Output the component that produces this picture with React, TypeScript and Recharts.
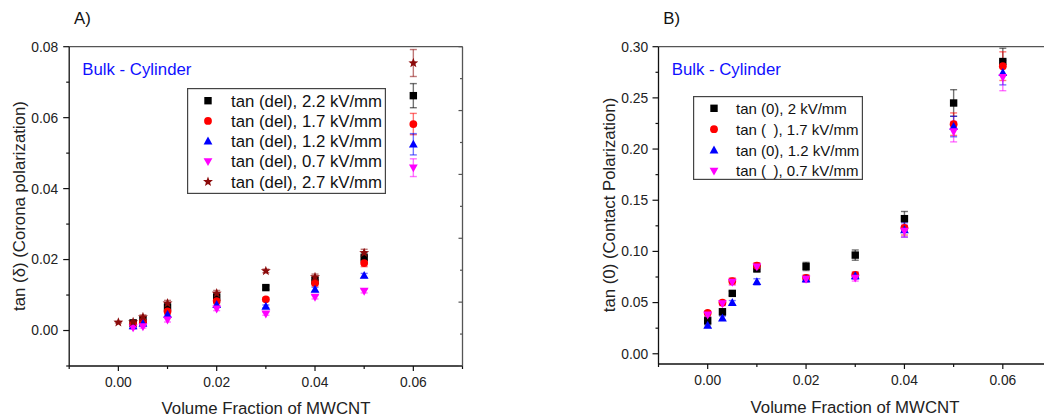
import React from 'react';
import { ScatterChart, Scatter, XAxis, YAxis, ErrorBar, Legend } from 'recharts';

const FONT = '"Liberation Sans", Arial, Helvetica, sans-serif';

// ---------- shared ----------
const X_VALUES = [0, 0.003, 0.005, 0.01, 0.02, 0.03, 0.04, 0.05, 0.06];
const X_TICKS = [-0.01, 0, 0.01, 0.02, 0.03, 0.04, 0.05, 0.06, 0.07];
const X_LABELED = [0, 0.02, 0.04, 0.06];
const FRAME_TICKS = [0, 1, 2, 3, 4, 5, 6, 7, 8, 9, 10];

// ---------- panel A ----------
const A_NAMES = [
  'tan (del), 2.2 kV/mm',
  'tan (del), 1.7 kV/mm',
  'tan (del), 1.2 kV/mm',
  'tan (del), 0.7 kV/mm',
  'tan (del), 2.7 kV/mm',
];
const A_22 = [null, 0.0021, 0.003, 0.0066, 0.0094, 0.0121, 0.0141, 0.0205, 0.0662];
const A_17 = [null, 0.0018, 0.0025, 0.0054, 0.0083, 0.0088, 0.0134, 0.019, 0.0582];
const A_12 = [null, 0.0013, 0.002, 0.0045, 0.0073, 0.0068, 0.0116, 0.0155, 0.0525];
const A_07 = [null, 0.0008, 0.0011, 0.003, 0.0061, 0.0047, 0.0094, 0.0111, 0.0459];
const A_27 = [0.0023, 0.0024, 0.0038, 0.0077, 0.0105, 0.0168, 0.0151, 0.0219, 0.0754];
const A_22_ERR = [null, 0.0008, 0.0008, 0.001, 0.001, 0.0005, 0.001, 0.0012, 0.0034];
const A_17_ERR = [null, 0.0005, 0.0005, 0.0008, 0.0008, 0.0005, 0.0008, 0.001, 0.003];
const A_12_ERR = [null, 0.0004, 0.0004, 0.0006, 0.0006, 0.0004, 0.0006, 0.0006, 0.003];
const A_07_ERR = [null, 0.0004, 0.0004, 0.0006, 0.0005, 0.0004, 0.0005, 0.0005, 0.0025];
const A_27_ERR = [0.0002, 0.0006, 0.0006, 0.0008, 0.0008, 0.0005, 0.0008, 0.001, 0.0038];
const A_Y_TICKS = [-0.01, 0, 0.01, 0.02, 0.03, 0.04, 0.05, 0.06, 0.07, 0.08];
const A_Y_LABELED = [0, 0.02, 0.04, 0.06, 0.08];

// ---------- panel B ----------
const B_NAMES = [
  'tan (0), 2 kV/mm',
  'tan (\u2002), 1.7 kV/mm',
  'tan (0), 1.2 kV/mm',
  'tan (\u2002), 0.7 kV/mm',
];
const B_20 = [0.0322, 0.041, 0.059, 0.083, 0.0853, 0.0964, 0.132, 0.245, 0.2855];
const B_17 = [0.04, 0.05, 0.071, 0.086, 0.074, 0.077, 0.123, 0.2243, 0.281];
const B_12 = [0.0277, 0.0348, 0.05, 0.0703, 0.073, 0.076, 0.121, 0.222, 0.2747];
const B_07 = [0.038, 0.049, 0.07, 0.085, 0.073, 0.074, 0.12, 0.217, 0.27];
const B_20_ERR = [0.004, 0.003, 0.002, 0.003, 0.004, 0.005, 0.007, 0.013, 0.013];
const B_17_ERR = [0.002, 0.002, 0.003, 0.003, 0.003, 0.003, 0.007, 0.011, 0.014];
const B_12_ERR = [0.002, 0.002, 0.002, 0.003, 0.003, 0.003, 0.007, 0.01, 0.012];
const B_07_ERR = [0.002, 0.002, 0.003, 0.003, 0.003, 0.003, 0.006, 0.01, 0.013];
const B_Y_TICKS = [0, 0.025, 0.05, 0.075, 0.1, 0.125, 0.15, 0.175, 0.2, 0.225, 0.25, 0.275, 0.3];
const B_Y_LABELED = [0, 0.05, 0.1, 0.15, 0.2, 0.25, 0.3];

type Kind = 'square' | 'circle' | 'triangle' | 'down' | 'star';

const BLACK = '#000000';
const RED = '#ff0000';
const BLUE = '#0000ff';
const MAGENTA = '#ff00ff';
const DARKRED = '#8b0a0a';

function build(ys: (number | null)[], errs: (number | null)[]) {
  const out: { x: number; y: number; e: number }[] = [];
  X_VALUES.forEach((x, i) => {
    const y = ys[i];
    if (y !== null && y !== undefined) out.push({ x, y, e: (errs[i] as number) || 0 });
  });
  return out;
}

function starPoints(cx: number, cy: number, ro: number, ri: number) {
  const pts: string[] = [];
  for (let i = 0; i < 10; i++) {
    const r = i % 2 === 0 ? ro : ri;
    const a = -Math.PI / 2 + (i * Math.PI) / 5;
    pts.push(`${cx + r * Math.cos(a)},${cy + r * Math.sin(a)}`);
  }
  return pts.join(' ');
}

function Marker({ kind, cx, cy, color }: { kind: Kind; cx: number; cy: number; color: string }) {
  if (cx == null || cy == null || isNaN(cx) || isNaN(cy)) return <g />;
  switch (kind) {
    case 'square':
      return <rect x={cx - 3.7} y={cy - 3.7} width={7.4} height={7.4} fill={color} />;
    case 'circle':
      return <circle cx={cx} cy={cy} r={3.9} fill={color} />;
    case 'triangle':
      return <polygon points={`${cx},${cy - 4.6} ${cx - 4.4},${cy + 3.3} ${cx + 4.4},${cy + 3.3}`} fill={color} />;
    case 'down':
      return <polygon points={`${cx},${cy + 4.6} ${cx - 4.4},${cy - 3.3} ${cx + 4.4},${cy - 3.3}`} fill={color} />;
    case 'star':
      return <polygon points={starPoints(cx, cy, 5.2, 2.2)} fill={color} />;
  }
  return <g />;
}

const near = (list: number[], v: number) => list.some((t) => Math.abs(t - v) < 1e-9);

const AXIS_COLOR = '#111';
const FRAME_COLOR = '#555';
const TICK_FONT = 13.8;

function makeBottomTick() {
  return (props: any) => {
    const { x, y, payload } = props;
    const v = payload.value as number;
    const major = near(X_LABELED, v);
    return (
      <g>
        <line x1={x} x2={x} y1={y} y2={y + (major ? 5 : 3)} stroke={AXIS_COLOR} strokeWidth={1.2} />
        {major && (
          <text x={x} y={y + 21} textAnchor="middle" fontSize={TICK_FONT} fontFamily={FONT} fill="#222">
            {v.toFixed(2)}
          </text>
        )}
      </g>
    );
  };
}

function makeLeftTick(labeled: number[], gap: number) {
  return (props: any) => {
    const { x, y, payload } = props;
    const v = payload.value as number;
    const major = near(labeled, v);
    return (
      <g>
        <line x1={x} x2={x - (major ? 6 : 3)} y1={y} y2={y} stroke={AXIS_COLOR} strokeWidth={1.2} />
        {major && (
          <text x={x - gap} y={y + 4.9} textAnchor="end" fontSize={TICK_FONT} fontFamily={FONT} fill="#222">
            {v.toFixed(2)}
          </text>
        )}
      </g>
    );
  };
}

const TopTick = (props: any) => {
  const { x, y, payload } = props;
  const major = payload.value % 2 === 0;
  return <line x1={x} x2={x} y1={y} y2={y + (major ? 4 : 2.5)} stroke={FRAME_COLOR} strokeWidth={1.2} />;
};

const RightTick = (props: any) => {
  const { x, y, payload } = props;
  const major = payload.value % 2 === 0;
  return <line x1={x} x2={x - (major ? 4 : 2.5)} y1={y} y2={y} stroke={FRAME_COLOR} strokeWidth={1.2} />;
};

function makeLegend(
  names: string[],
  kinds: Kind[],
  colors: string[],
  w: number,
  h: number,
  rowTop: number,
  rowGap: number,
  textX: number,
  fontSize: number
) {
  return (props: any) => {
    const payload = (props && props.payload) || [];
    return (
      <svg width={w} height={h} style={{ display: 'block' }}>
        <rect x={0.6} y={0.6} width={w - 1.2} height={h - 1.2} fill="#fff" stroke="#444" strokeWidth={1.2} />
        {payload.map((entry: any, i: number) => {
          const idx = names.indexOf(entry.value);
          const k = idx >= 0 ? idx : i;
          const cy = rowTop + k * rowGap;
          return (
            <g key={`l-${i}`}>
              <Marker kind={kinds[k]} cx={21} cy={cy} color={colors[k]} />
              <text x={textX} y={cy + fontSize * 0.36} fontSize={fontSize} fontFamily={FONT} fill="#111">
                {entry.value}
              </text>
            </g>
          );
        })}
      </svg>
    );
  };
}

const A_SERIES = [
  { name: A_NAMES[0], ys: A_22, errs: A_22_ERR, kind: 'square' as Kind, color: BLACK },
  { name: A_NAMES[1], ys: A_17, errs: A_17_ERR, kind: 'circle' as Kind, color: RED },
  { name: A_NAMES[2], ys: A_12, errs: A_12_ERR, kind: 'triangle' as Kind, color: BLUE },
  { name: A_NAMES[3], ys: A_07, errs: A_07_ERR, kind: 'down' as Kind, color: MAGENTA },
  { name: A_NAMES[4], ys: A_27, errs: A_27_ERR, kind: 'star' as Kind, color: DARKRED },
];

const B_SERIES = [
  { name: B_NAMES[0], ys: B_20, errs: B_20_ERR, kind: 'square' as Kind, color: BLACK },
  { name: B_NAMES[1], ys: B_17, errs: B_17_ERR, kind: 'circle' as Kind, color: RED },
  { name: B_NAMES[2], ys: B_12, errs: B_12_ERR, kind: 'triangle' as Kind, color: BLUE },
  { name: B_NAMES[3], ys: B_07, errs: B_07_ERR, kind: 'down' as Kind, color: MAGENTA },
];

function Panel({
  series,
  width,
  height,
  margin,
  yDomain,
  yTicks,
  yLabeled,
  yGap,
  legend,
}: any) {
  // axes are 1px thick boxes; subtract them from the outer margins
  const m = { top: margin.top - 1, right: margin.right - 1, bottom: margin.bottom - 1, left: margin.left - 1 };
  return (
    <ScatterChart width={width} height={height} margin={m}>
      <XAxis
        type="number"
        dataKey="x"
        domain={[-0.01, 0.07]}
        ticks={X_TICKS}
        interval={0}
        allowDataOverflow
        height={1}
        tickSize={0}
        tickMargin={0}
        tickLine={false}
        axisLine={{ stroke: AXIS_COLOR, strokeWidth: 1.3 }}
        tick={makeBottomTick()}
      />
      <XAxis
        xAxisId="top"
        orientation="top"
        type="number"
        domain={[0, 10]}
        ticks={FRAME_TICKS}
        interval={0}
        allowDataOverflow
        height={1}
        tickSize={0}
        tickMargin={0}
        tickLine={false}
        axisLine={{ stroke: FRAME_COLOR, strokeWidth: 1.3 }}
        tick={TopTick}
      />
      <YAxis
        type="number"
        dataKey="y"
        domain={yDomain}
        ticks={yTicks}
        interval={0}
        allowDataOverflow
        width={1}
        tickSize={0}
        tickMargin={0}
        tickLine={false}
        axisLine={{ stroke: AXIS_COLOR, strokeWidth: 1.3 }}
        tick={makeLeftTick(yLabeled, yGap)}
      />
      <YAxis
        yAxisId="right"
        orientation="right"
        type="number"
        domain={[0, 10]}
        ticks={FRAME_TICKS}
        interval={0}
        allowDataOverflow
        width={1}
        tickSize={0}
        tickMargin={0}
        tickLine={false}
        axisLine={{ stroke: FRAME_COLOR, strokeWidth: 1.3 }}
        tick={RightTick}
      />
      {legend}
      {series.map((s: any) => (
        <Scatter
          key={s.name}
          name={s.name}
          data={build(s.ys, s.errs)}
          fill={s.color}
          isAnimationActive={false}
          shape={(p: any) => <Marker kind={s.kind} cx={p.cx} cy={p.cy} color={s.color} />}
        >
          <ErrorBar
            dataKey="e"
            direction="y"
            width={3.5}
            stroke={s.color}
            strokeOpacity={0.55}
            strokeWidth={1.4}
            isAnimationActive={false}
          />
        </Scatter>
      ))}
    </ScatterChart>
  );
}

export default function App() {
  const titleSize = 16.8;
  return (
    <div
      style={{
        position: 'fixed',
        left: 0,
        top: 0,
        width: 1044,
        height: 418,
        overflow: 'hidden',
        background: '#fff',
        fontFamily: FONT,
      }}
    >
      <div style={{ position: 'absolute', left: 0, top: 0 }}>
        <Panel
          series={A_SERIES}
          width={480}
          height={418}
          margin={{ top: 46.7, right: 17.5, bottom: 52, left: 69.2 }}
          yDomain={[-0.01, 0.08]}
          yTicks={A_Y_TICKS}
          yLabeled={A_Y_LABELED}
          yGap={11}
          legend={
            <Legend
              layout="vertical"
              align="center"
              verticalAlign="middle"
              wrapperStyle={{ left: 187, top: 88, width: 199, height: 106 }}
              content={makeLegend(
                A_NAMES,
                A_SERIES.map((s) => s.kind),
                A_SERIES.map((s) => s.color),
                199,
                106,
                12.7,
                20.25,
                44,
                16.8
              )}
            />
          }
        />
      </div>
      <div style={{ position: 'absolute', left: 560, top: 0 }}>
        <Panel
          series={B_SERIES}
          width={500}
          height={418}
          margin={{ top: 46.7, right: 8, bottom: 54, left: 98.5 }}
          yDomain={[-0.01, 0.3]}
          yTicks={B_Y_TICKS}
          yLabeled={B_Y_LABELED}
          yGap={10.3}
          legend={
            <Legend
              layout="vertical"
              align="center"
              verticalAlign="middle"
              wrapperStyle={{ left: 133, top: 96, width: 170, height: 84 }}
              content={makeLegend(
                B_NAMES,
                B_SERIES.map((s) => s.kind),
                B_SERIES.map((s) => s.color),
                170,
                84,
                12.3,
                20.9,
                43,
                15
              )}
            />
          }
        />
      </div>
      <svg
        width={1044}
        height={418}
        style={{ position: 'absolute', left: 0, top: 0, pointerEvents: 'none' }}
        fontFamily={FONT}
      >
        <text x={74} y={23.5} fontSize={titleSize} fill="#111">A)</text>
        <text x={663.3} y={23.5} fontSize={titleSize} fill="#111">B)</text>
        <text x={82.3} y={75} fontSize={titleSize} fill="#1010ff">Bulk - Cylinder</text>
        <text x={671.7} y={75} fontSize={titleSize} fill="#1010ff">Bulk - Cylinder</text>
        <text x={266} y={413.5} fontSize={titleSize} fill="#222" textAnchor="middle">
          Volume Fraction of MWCNT
        </text>
        <text x={855} y={412.5} fontSize={titleSize} fill="#222" textAnchor="middle">
          Volume Fraction of MWCNT
        </text>
        <text x={25} y={206} fontSize={titleSize} fill="#222" textAnchor="middle" transform="rotate(-90 25 206)">
          tan (δ) (Corona polarization)
        </text>
        <text x={615} y={205} fontSize={titleSize} fill="#222" textAnchor="middle" transform="rotate(-90 615 205)">
          tan (0) (Contact Polarization)
        </text>
      </svg>
    </div>
  );
}
